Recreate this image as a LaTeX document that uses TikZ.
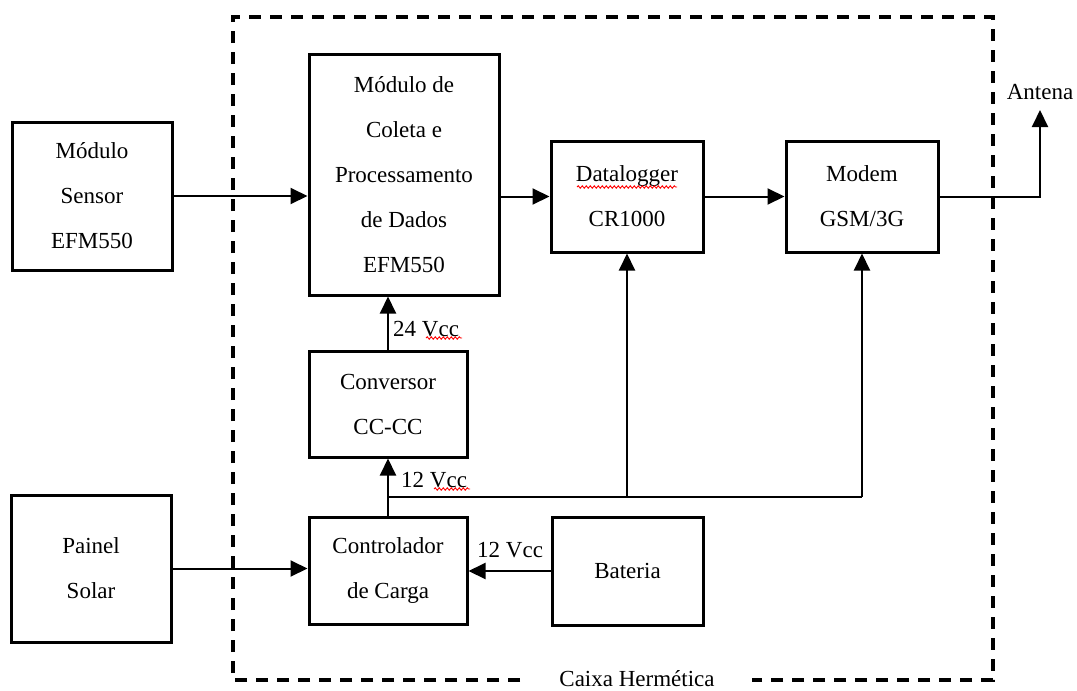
\documentclass[tikz,border=0pt]{standalone}
\usepackage{fontspec}
\setmainfont{Liberation Serif}
\usetikzlibrary{arrows.meta,decorations.pathmorphing}
\tikzset{
  blk/.style={draw, line width=3pt, rectangle, align=center, inner sep=0pt,
    font=\fontsize{23}{45}\selectfont},
  lbl/.style={font=\fontsize{23}{45}\selectfont, inner sep=0pt},
  conn/.style={line width=2pt, -{Triangle[length=17pt,width=16pt]}},
  wire/.style={line width=2pt},
  hull/.style={line width=3.2pt, dash pattern=on 12pt off 9pt},
  squig/.style={red, line width=0.9pt, decorate,
    decoration={snake, segment length=4pt, amplitude=1.2pt}}
}
\begin{document}
\begin{tikzpicture}[x=1pt,y=-1pt]
\useasboundingbox (0,0) rectangle (1077,691);
% boxes
\node[blk, minimum width=160pt, minimum height=148pt] (sens) at (92,196) {Módulo\\Sensor\\EFM550};
\node[blk, minimum width=190pt, minimum height=241pt] (mod) at (404,174.5) {Módulo de\\Coleta e\\Processamento\\de Dados\\EFM550};
\node[blk, minimum width=152pt, minimum height=111pt] (dl) at (627,196.5) {Datalogger\\CR1000};
\node[blk, minimum width=152pt, minimum height=111pt] (mdm) at (862,196.5) {Modem\\GSM/3G};
\node[blk, minimum width=158pt, minimum height=106pt] (conv) at (388,404) {Conversor\\CC-CC};
\node[blk, minimum width=158pt, minimum height=107pt] (ctrl) at (388,570.5) {Controlador\\de Carga};
\node[blk, minimum width=160pt, minimum height=147pt] (pan) at (91,568.5) {Painel\\Solar};
\node[blk, minimum width=151pt, minimum height=108pt] (bat) at (627.5,571) {Bateria};
% hermetic box
\draw[hull] (520,680) -- (233,680) -- (233,17) -- (993,17) -- (993,680) -- (752,680);
\node[lbl, anchor=base] (cx) at (637,686.5) {Caixa Hermética};
% antenna
\coordinate (ant) at (1040,110);
\node[lbl] (antl) at (1040,92) {Antena};
% connectors
\draw[conn] (sens.east) -- (sens.east -| mod.west);
\draw[conn] (dl.west -| mod.east) -- (dl.west);
\draw[conn] (dl.east) -- (mdm.west);
\draw[conn] (mdm.east) -| (ant);
\draw[conn] (conv.north) -- (conv.north |- mod.south);
\draw[conn] (ctrl.north) -- (conv.south);
\coordinate (j) at (388,497);
\draw[wire] (j) -- (j -| mdm.south);
\draw[conn] (j -| dl.south) -- (dl.south);
\draw[conn] (j -| mdm.south) -- (mdm.south);
\draw[conn] (pan.east) -- (pan.east -| ctrl.west);
\draw[conn] (bat.west) -- (bat.west -| ctrl.east);
% labels
\node[lbl, anchor=west] (v24) at (393,329) {24 Vcc};
\node[lbl, anchor=west] (v12a) at (401,480) {12 Vcc};
\node[lbl, anchor=west] (v12b) at (477,550) {12 Vcc};
% spell-check marks
\draw[squig] (426,338) -- (462,338);
\draw[squig] (434,489) -- (470,489);
\draw[squig] (577,187) -- (677,187);
\end{tikzpicture}
\end{document}
